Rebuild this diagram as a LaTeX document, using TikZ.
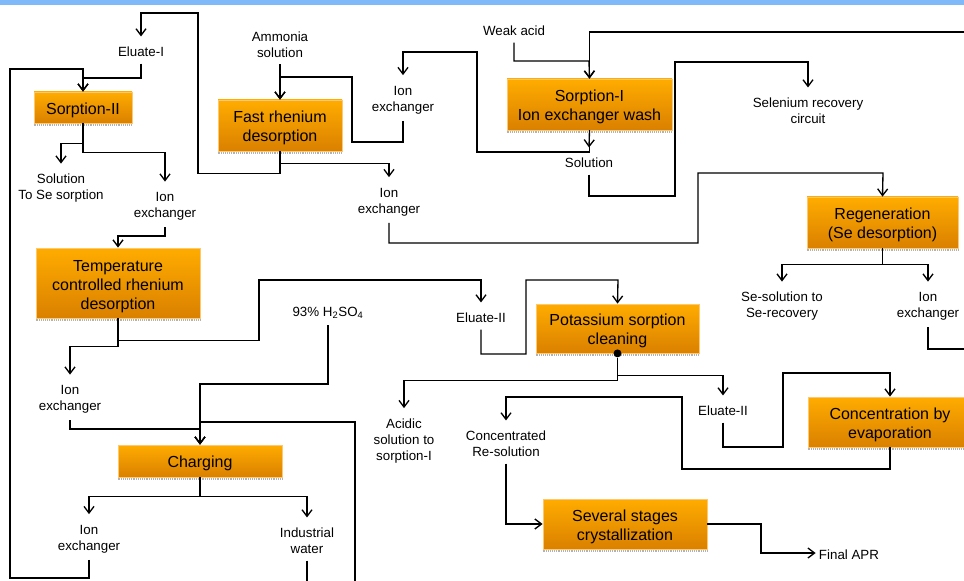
\documentclass[tikz,border=0pt]{standalone}
\usepackage{fontspec}
\setmainfont{Liberation Sans}
\usepackage{tikz}
\usetikzlibrary{arrows.meta}
\definecolor{boxtop}{RGB}{255,172,0}
\definecolor{boxbot}{RGB}{218,128,0}
\definecolor{boxedge}{RGB}{255,200,110}
\definecolor{topbar}{RGB}{128,185,250}
\tikzset{%
	stage/.style    = {draw=boxedge, line width=0.6pt, top color=boxtop, bottom color=boxbot, align=center, font=\fontsize{12}{14.25}\selectfont, inner sep=1pt, text height=#1,
		append after command={\pgfextra{\let\stagenode=\tikzlastnode} ([yshift=-1.3pt]\stagenode.south west) edge[stagerim] ([yshift=-1.3pt]\stagenode.south east)}}, % Process box
	stage/.default  = 12.8pt,
	stagerim/.style = {draw=gray!60, line width=2pt, dash pattern=on 0.7pt off 0.7pt, -}, % Dotted rim
	stream/.style   = {align=center, font=\fontsize{10}{12}\selectfont, inner xsep=2pt, inner ysep=4.5pt, text height=#1}, % Stream label
	stream/.default = 10.2pt,
	junction/.style = {fill, circle, inner sep=0pt, minimum size=6pt}, % Dot
}

\begin{document}
\begin{tikzpicture}[x=0.75pt, y=-0.75pt, line width=1pt, >={Straight Barb[length=5pt, width=7.5pt]}]
	\useasboundingbox (0,0) rectangle (964,581);
	\clip (0,0) rectangle (964,581);
	\fill[topbar] (0,0) rectangle (964,5);
	% process boxes
	\node[stage, minimum width=73.5pt, minimum height=23.25pt] (sorp2) at (83,107.5) {Sorption-II};
	\node[stage=27.2pt, minimum width=93pt, minimum height=38.25pt] (fastre) at (280,125.5) {Fast rhenium\\desorption};
	\node[stage=27.2pt, minimum width=123.75pt, minimum height=38.25pt] (sorp1) at (589.5,104.5) {Sorption-I\\Ion exchanger wash};
	\node[stage=27.2pt, minimum width=113.25pt, minimum height=38.25pt] (regen) at (882.5,222.5) {Regeneration\\(Se desorption)};
	\node[stage=41.5pt, minimum width=123pt, minimum height=52.5pt] (temp) at (118,283) {Temperature\\controlled rhenium\\desorption};
	\node[stage, minimum width=123pt, minimum height=24pt] (charg) at (200,461) {Charging};
	\node[stage=27.2pt, minimum width=122.25pt, minimum height=36.75pt] (potas) at (617.5,328.5) {Potassium sorption\\cleaning};
	\node[stage=27.2pt, minimum width=123pt, minimum height=37.5pt] (evap) at (890,422) {Concentration by\\evaporation};
	\node[stage=27.2pt, minimum width=123pt, minimum height=37.5pt] (cryst) at (625,524) {Several stages\\crystallization};
	% streams
	\node[stream] (elu1) at (141,50) {Eluate-I};
	\node[stream=22.2pt] (amm) at (280,42.5) {Ammonia\\solution};
	\node[stream=22.2pt] (ionA) at (403,98) {Ion\\exchanger};
	\node[stream=22.2pt] (sol2) at (61,186.5) {Solution\\To Se sorption};
	\node[stream=22.2pt] (ionB) at (165,204.5) {Ion\\exchanger};
	\node[stream=22.2pt] (ionC) at (389,200) {Ion\\exchanger};
	\node[stream] (weak) at (514,29) {Weak acid};
	\node[stream] (sol1) at (589,161) {Solution};
	\node[stream=22.2pt] (selen) at (808,109) {Selenium recovery\\circuit};
	\node[stream=22.2pt] (seso) at (782,304.5) {Se-solution to\\Se-recovery};
	\node[stream=22.2pt] (ionD) at (928,304.5) {Ion\\exchanger};
	\node[stream] (h2so) at (328,311) {93\% H\textsubscript{2}SO\textsubscript{4}};
	\node[stream] (elu2a) at (481,316) {Eluate-II};
	\node[stream=22.2pt] (ionE) at (70,397.5) {Ion\\exchanger};
	\node[stream=34.2pt] (acid) at (404,439) {Acidic\\solution to\\sorption-I};
	\node[stream] (elu2b) at (723,409) {Eluate-II};
	\node[stream=22.2pt] (conc) at (506,442) {Concentrated\\Re-solution};
	\node[stream=22.2pt] (ionF) at (89,537) {Ion\\exchanger};
	\node[stream=22.2pt] (water) at (307,539) {Industrial\\water};
	\node[stream] (final) at (849,553) {Final APR};
	\coordinate (inR) at (964,32);
	\coordinate (outR) at (964,349);
	\coordinate (inB) at (355,581);
	\coordinate (outB) at (307,581);
	% rhenium side
	\draw[->] (fastre.south) -- ++(0,22) -| (198,13) -| (elu1.north);
	\draw[->] (fastre.south) -- ++(0,12) -| (ionC.north);
	\draw[->] (elu1.south) |- (83,78) -- (sorp2.north);
	\draw[->] (ionF.south) |- (10,578) |- (83,69) -- (sorp2.north);
	\draw[->] (sorp2.south) -- ++(0,20) -| (sol2.north);
	\draw[->] (sorp2.south) -- ++(0,29) -| (ionB.north);
	\draw[->] (ionB.south) |- (118,236) -- (temp.north);
	\draw[->] (amm.south) -- (fastre.north);
	\draw[->] (ionA.south) |- (352,142) |- (280,77) -- (fastre.north);
	\draw[->] (sorp1.south) -- (sol1.north);
	\draw[->] (sorp1.south) |- (477,152) |- (403,52) -- (ionA.north);
	\draw[->] (weak.south) |- (589,61) -- (sorp1.north);
	\draw[->] (inR) -| (sorp1.north);
	\draw[->] (sol1.south) |- (675,196) |- (808,62) -- (selen.north);
	\draw[->] (ionC.south) |- (698,243) |- (883,173) -- (regen.north);
	\draw[->] (regen.south) -- ++(0,16) -| (seso.north);
	\draw[->] (regen.south) -- ++(0,16) -| (ionD.north);
	\draw (ionD.south) |- (outR);
	% charging
	\draw[->] (temp.south) -- ++(0,22) -| (259,280) -| (elu2a.north);
	\draw[->] (temp.south) -- ++(0,28) -| (ionE.north);
	\draw[->] (ionE.south) |- (200,429) -- (charg.north);
	\draw[->] (h2so.south) |- (200,384) -- (charg.north);
	\draw[->] (inB) |- (200,422) -- (charg.north);
	\draw[->] (charg.south) -- ++(0,19) -| (ionF.north);
	\draw[->] (charg.south) -- ++(0,19) -| (water.north);
	\draw (water.south) -- (outB);
	% cleaning and crystallization
	\draw[->] (elu2a.south) |- (526,354) |- (618,280) -- (potas.north);
	\node[junction] (dot) at (potas.south) {};
	\draw[->] (dot) -- ++(0,27) -| (acid.north);
	\draw[->] (dot) -- ++(0,22) -| (elu2b.north);
	\draw[->] (elu2b.south) |- (783,447) |- (890,373) -- (evap.north);
	\draw[->] (evap.south) |- (682,469) |- (506,397) -- (conc.north);
	\draw[->] (conc.south) |- (cryst.west);
	\draw[->] (cryst.east) -| (761,553) -- (final.west);
\end{tikzpicture}
\end{document}
